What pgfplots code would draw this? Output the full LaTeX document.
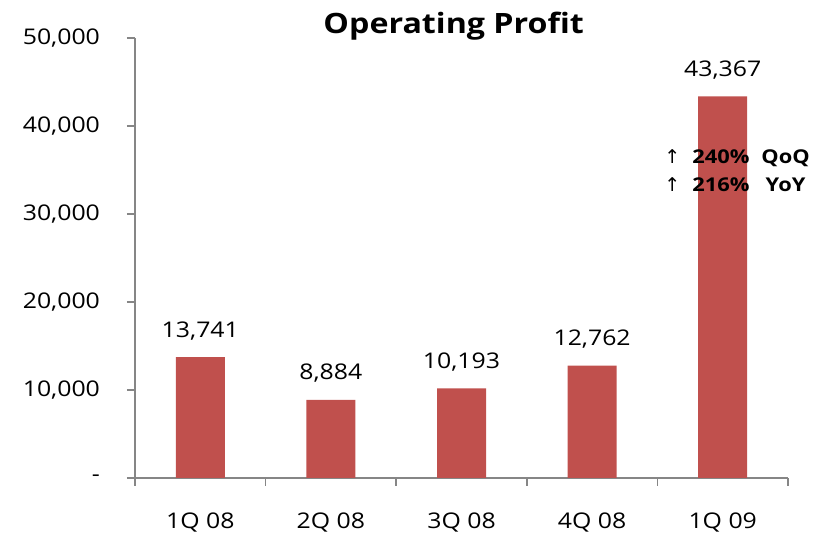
\documentclass[border=0pt]{standalone}
\usepackage{fontspec}
\setmainfont{Open Sans}[FakeStretch=1.15]
\newfontfamily\sym{DejaVu Sans}
\usepackage{pgfplots}
\pgfplotsset{compat=1.18}
\definecolor{barred}{HTML}{C0504D}
\definecolor{axgray}{HTML}{868686}

\begin{document}
\begin{tikzpicture}
\begin{axis}[
  scale only axis,
  width=326.5pt, height=220pt,
  xmin=-0.5, xmax=4.5,
  ymin=0, ymax=50000,
  scaled y ticks=false,
  axis x line*=bottom, axis y line*=left,
  axis line style={axgray, line width=0.85pt},
  tick align=outside,
  major tick length=4pt, minor tick length=4pt,
  tick style={axgray, line width=0.85pt},
  xtick={0,1,2,3,4},
  xticklabels={1Q 08,2Q 08,3Q 08,4Q 08,1Q 09},
  major x tick style={draw=none},
  minor x tick style={axgray, line width=0.85pt},
  minor xtick={-0.5,0.5,1.5,2.5,3.5,4.5},
  ytick={0,10000,20000,30000,40000,50000},
  yticklabels={-,{10,000},{20,000},{30,000},{40,000},{50,000}},
  ticklabel style={font=\fontsize{10.8}{12}\selectfont},
  yticklabel style={xshift=-10pt},
  xticklabel style={yshift=-10pt},
  ybar, bar width=24.5pt,
  nodes near coords={\pgfmathprintnumber[fixed,precision=0,1000 sep={,},assume math mode=true]{\pgfplotspointmeta}},
  every node near coord/.append style={font=\fontsize{10.8}{12}\selectfont, yshift=5pt},
  clip=false,
]
\addplot[fill=barred, draw=none] coordinates {(0,13741) (1,8884) (2,10193) (3,12762) (4,43367)};
\coordinate (bl) at (rel axis cs:0,0);
\coordinate (tr) at (rel axis cs:1,1);
\node[anchor=base, font=\fontsize{14}{16}\selectfont\bfseries] at (rel axis cs:0.488,1) [yshift=2pt] {Operating Profit};
\node[font=\fontsize{9.5}{11}\selectfont\bfseries, inner sep=0pt] at (axis cs:4.11,34700) {%
  \begin{tabular}{@{}l@{\hspace{6pt}}l@{\hspace{6pt}}c@{}}
  {\sym\mdseries ↑} & 240\% & QoQ\\[3pt]
  {\sym\mdseries ↑} & 216\% & YoY
  \end{tabular}};
\end{axis}
\pgfresetboundingbox
\path ([shift={(-67.5pt,-31pt)}]bl) rectangle ([shift={(14.5pt,19pt)}]tr);
\end{tikzpicture}
\end{document}
